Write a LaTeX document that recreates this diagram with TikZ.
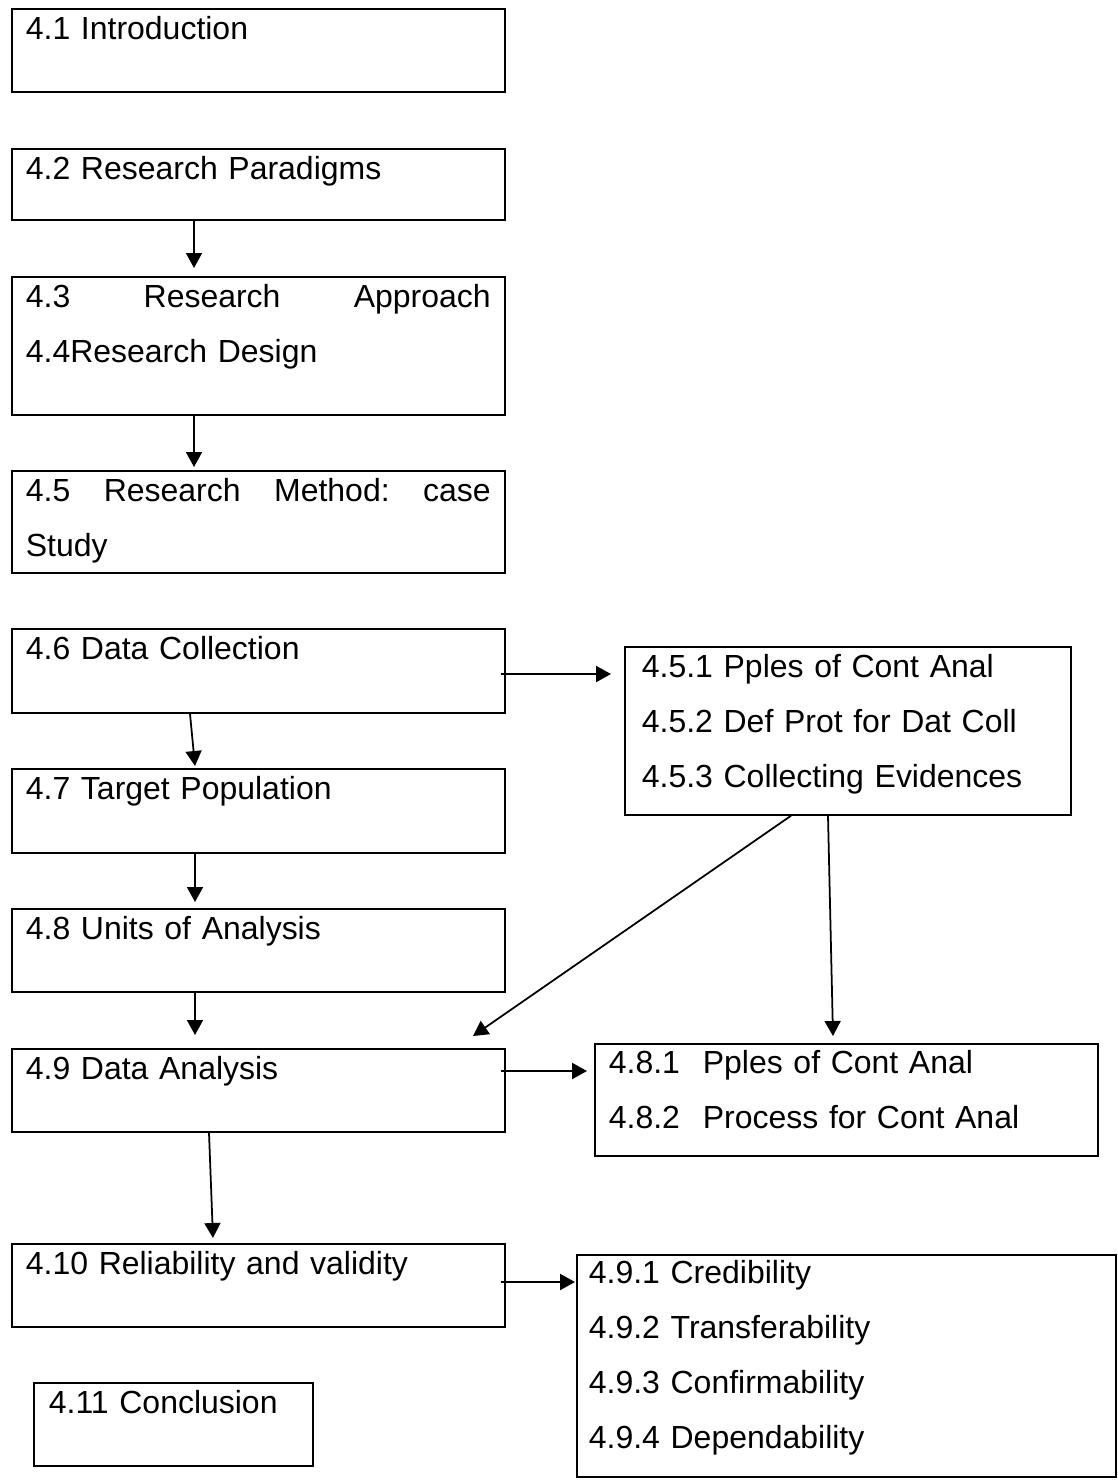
\documentclass[tikz,border=0pt]{standalone}
\usepackage{fontspec}
\setmainfont{Liberation Sans}
\usepackage{tikz}
\usetikzlibrary{calc}
\usetikzlibrary{arrows.meta}

\tikzset{
  box/.style={draw, line width=1pt, anchor=north west, align=left,
    inner xsep=0.28cm, inner ysep=0pt, text height=0.62cm,
    font=\fontsize{18.2}{31.3}\selectfont},
  arr/.style={-{Triangle[length=0.30cm, width=0.32cm]}, line width=1pt},
  harr/.style={arr, line width=1.25pt}
}

\begin{document}
\begin{tikzpicture}[x=0.02cm, y=-0.02cm]

    \useasboundingbox (0,0) rectangle (1117,1480);

    % Left column of the chapter
    \node[box, text width=9.30cm, text depth=1.04cm] (intro) at (11,8) {4.1 Introduction};
    \node[box, text width=9.30cm, text depth=0.80cm] (paradigm) at (11,148) {4.2 Research Paradigms};
    \node[box, text width=9.30cm, text depth=2.14cm] (approach) at (11,276)
        {\makebox[\linewidth]{4.3\hfill Research\hfill Approach}\\4.4Research Design};
    \node[box, text width=9.30cm, text depth=1.42cm] (method) at (11,470)
        {\makebox[\linewidth]{4.5\hfill Research\hfill Method:\hfill case}\\Study};
    \node[box, text width=9.30cm, text depth=1.06cm] (collect) at (11,628) {4.6 Data Collection};
    \node[box, text width=9.30cm, text depth=1.06cm] (target) at (11,768) {4.7 Target Population};
    \node[box, text width=9.30cm, text depth=1.04cm] (units) at (11,908) {4.8 Units of Analysis};
    \node[box, text width=9.30cm, text depth=1.04cm] (analysis) at (11,1048) {4.9 Data Analysis};
    \node[box, text width=9.30cm, text depth=1.04cm] (reliab) at (11,1243) {4.10 Reliability and validity};
    \node[box, inner xsep=0.30cm, text width=4.98cm, text depth=1.04cm] (concl) at (33,1382) {4.11 Conclusion};

    % Right column of sub-sections
    \node[box, inner xsep=0.34cm, text width=8.24cm, text height=0.62cm, text depth=2.74cm] (contanal) at (624,646)
        {4.5.1 Pples of Cont Anal\\4.5.2 Def Prot for Dat Coll\\4.5.3 Collecting Evidences};
    \node[box, text width=9.50cm, text height=0.60cm, text depth=1.64cm] (process) at (594,1043)
        {\makebox[1.88cm][l]{4.8.1}Pples of Cont Anal\\\makebox[1.88cm][l]{4.8.2}Process for Cont Anal};
    \node[box, inner xsep=0.24cm, text width=10.30cm, text height=0.58cm, text depth=3.86cm] (criteria) at (576,1254)
        {4.9.1 Credibility\\4.9.2 Transferability\\4.9.3 Confirmability\\4.9.4 Dependability};

    % Arrows down the left column
    \draw[arr] ($(paradigm.south west)+(183,0)$) -- ($(approach.north west)+(183,-8)$);
    \draw[arr] ($(approach.south west)+(183,0)$) -- ($(method.north west)+(183,-3)$);
    \draw[arr] ($(collect.south west)+(179,0)$) -- ($(target.north west)+(184,-2)$);
    \draw[arr] ($(target.south west)+(184,0)$) -- ($(units.north west)+(184,-6)$);
    \draw[arr] ($(units.south west)+(184,0)$) -- ($(analysis.north west)+(184,-13)$);
    \draw[arr] ($(analysis.south west)+(198,0)$) -- ($(reliab.north west)+(202,-5)$);

    % Arrows out to the right column
    \draw[harr] ($(collect.north east)+(-5,46)$) -- ($(contanal.north west)+(-13,28)$);
    \draw[harr] ($(analysis.north east)+(-5,23)$) -- ($(process.north west)+(-7,28)$);
    \draw[harr] ($(reliab.north east)+(-5,39)$) -- ($(criteria.north west)+(-1,28)$);

    % Arrows from 4.5.x
    \draw[arr] ($(contanal.south west)+(167,0)$) -- ($(analysis.north west)+(462,-12)$);
    \draw[arr] ($(contanal.south west)+(204,0)$) -- ($(process.north west)+(239,-7)$);

\end{tikzpicture}
\end{document}
